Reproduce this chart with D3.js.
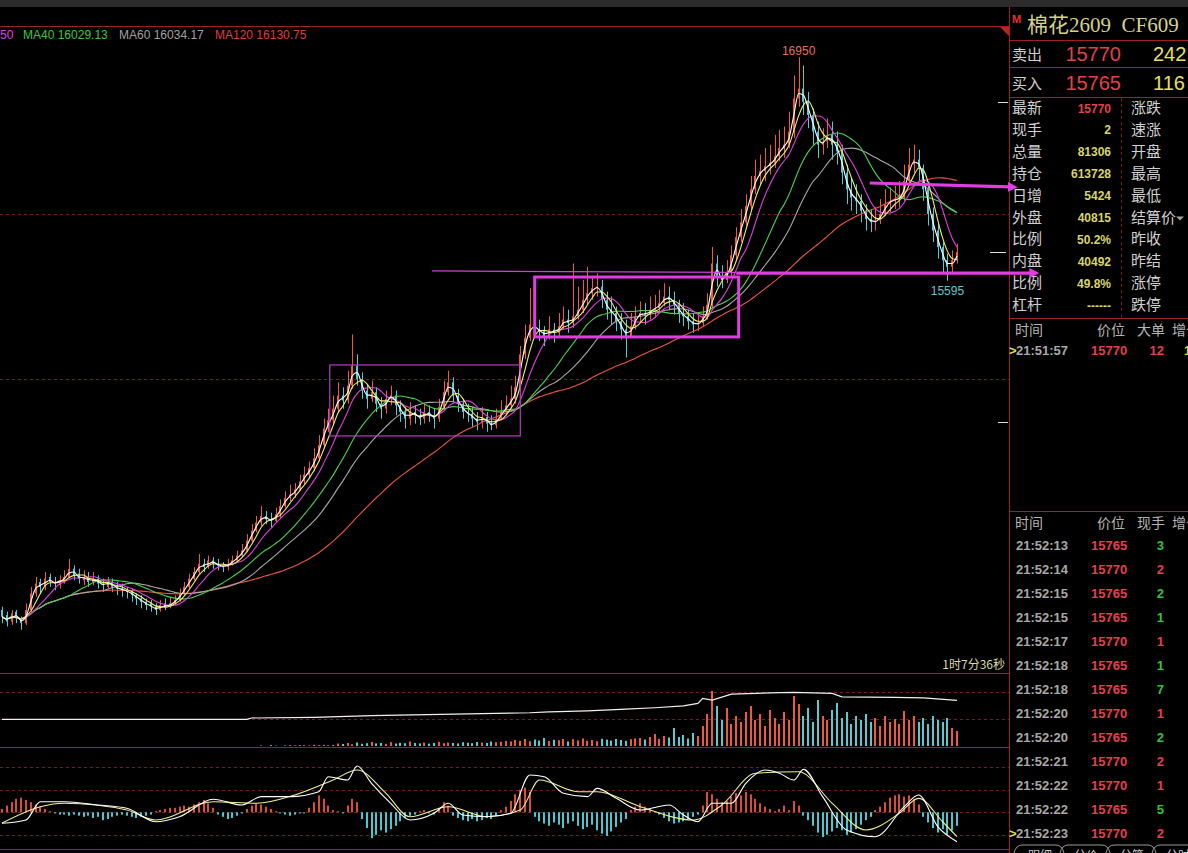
<!DOCTYPE html>
<html>
<head>
<meta charset="utf-8">
<script src="https://cdn.jsdelivr.net/npm/d3@7"></script>
<style>
  body { margin: 0; background: #000; overflow: hidden; }
  svg { display: block; }
</style>
</head>
<body>
<div id="container"></div>
<script>
/* DATA - one candle per drawn bar */
const open = [
  13600,13570,13530,13590,13550,13520,13600,13700,13770,13740,
  13800,13770,13750,13770,13800,13850,13820,13780,13800,13770,
  13790,13760,13740,13770,13740,13730,13720,13710,13690,13670,
  13650,13640,13620,13600,13640,13620,13640,13660,13700,13740,
  13790,13830,13880,13860,13900,13880,13870,13860,13880,13900,
  13930,13960,14020,14080,14130,14170,14150,14140,14180,14230,
  14280,14300,14330,14380,14420,14460,14520,14600,14700,14750,
  14820,14900,14870,14960,15080,15000,14930,14880,14920,14850,
  14820,14880,14900,14840,14800,14760,14800,14780,14760,14800,
  14780,14760,14830,14920,14980,14900,14850,14800,14790,14760,
  14740,14770,14730,14720,14760,14800,14840,14880,14950,15150,
  15250,15330,15300,15290,15260,15300,15280,15320,15360,15340,
  15380,15420,15480,15520,15550,15560,15480,15420,15400,15350,
  15300,15260,15320,15380,15400,15390,15420,15430,15460,15500,
  15480,15450,15400,15380,15350,15330,15340,15380,15450,15700,
  15620,15600,15650,15750,15860,15950,16050,16150,16230,16260,
  16290,16310,16350,16400,16420,16500,16700,16760,16680,16600,
  16500,16420,16440,16480,16420,16380,16250,16150,16100,16080,
  16020,15970,15950,15960,16000,16060,16080,16090,16100,16200,
  16300,16330,16280,16150,16000,15900,15800,15720,15680,15720
];
const high = [
  13620,13590,13600,13600,13560,13640,13740,13800,13790,13830,
  13820,13800,13810,13840,13910,13870,13850,13840,13830,13830,
  13810,13790,13800,13790,13770,13760,13740,13730,13700,13690,
  13670,13660,13640,13660,13670,13680,13690,13730,13770,13820,
  13860,13940,13910,13930,13920,13910,13890,13910,13930,13960,
  14000,14060,14120,14170,14230,14200,14190,14220,14270,14320,
  14360,14370,14420,14470,14500,14580,14660,14760,14820,14900,
  14980,14950,15050,15270,15150,15040,14970,14990,14950,14890,
  14930,14960,14930,14870,14830,14860,14840,14820,14850,14840,
  14820,14880,14990,15050,15010,14940,14880,14850,14830,14800,
  14830,14800,14780,14820,14870,14900,14960,15020,15200,15330,
  15550,15400,15360,15320,15380,15340,15400,15440,15420,15700,
  15560,15600,15680,15620,15640,15600,15530,15500,15440,15400,
  15360,15400,15440,15470,15460,15500,15510,15540,15580,15560,
  15530,15480,15460,15420,15400,15400,15440,15520,15800,15750,
  15690,15720,15810,15920,16030,16120,16230,16330,16360,16400,
  16420,16480,16510,16530,16620,16840,16950,16900,16740,16640,
  16560,16520,16580,16560,16500,16420,16300,16220,16180,16120,
  16060,16030,16040,16090,16150,16160,16170,16200,16300,16400,
  16420,16390,16300,16180,16040,15940,15830,15760,15780,15820
];
const low = [
  13520,13500,13510,13520,13480,13510,13590,13680,13700,13720,
  13740,13720,13730,13760,13790,13780,13760,13750,13740,13750,
  13730,13710,13730,13710,13690,13680,13670,13650,13630,13610,
  13600,13590,13570,13590,13600,13610,13630,13650,13690,13730,
  13780,13820,13830,13850,13850,13840,13830,13840,13870,13890,
  13920,13950,14010,14070,14110,14120,14100,14130,14160,14220,
  14260,14280,14320,14360,14400,14440,14500,14580,14680,14720,
  14800,14820,14850,14940,14960,14880,14820,14860,14800,14760,
  14790,14840,14780,14740,14700,14720,14730,14720,14730,14740,
  14700,14740,14810,14900,14860,14800,14760,14740,14710,14690,
  14700,14680,14690,14700,14750,14780,14820,14850,14930,15120,
  15230,15250,15230,15200,15240,15220,15260,15300,15280,15310,
  15360,15400,15450,15480,15500,15430,15360,15330,15290,15240,
  15130,15250,15300,15340,15330,15360,15370,15400,15440,15420,
  15390,15340,15320,15300,15280,15290,15320,15360,15430,15560,
  15550,15580,15620,15720,15830,15930,16020,16120,16180,16200,
  16240,16280,16320,16340,16400,16460,16650,16600,16520,16420,
  16340,16360,16400,16330,16300,16180,16060,16020,16000,15950,
  15900,15890,15900,15940,15990,16010,16030,16040,16080,16180,
  16250,16200,16080,15930,15830,15730,15640,15595,15640,15700
];
const close = [
  13560,13530,13580,13550,13520,13600,13700,13760,13740,13790,
  13770,13760,13780,13800,13850,13810,13790,13800,13770,13790,
  13760,13750,13770,13740,13730,13720,13710,13690,13670,13650,
  13630,13620,13600,13630,13620,13640,13660,13700,13740,13790,
  13830,13880,13860,13900,13880,13870,13860,13880,13900,13930,
  13960,14020,14080,14130,14170,14150,14140,14180,14230,14280,
  14300,14330,14380,14420,14460,14520,14600,14700,14750,14820,
  14900,14870,14960,15080,15000,14930,14880,14920,14850,14820,
  14880,14900,14840,14800,14760,14800,14780,14760,14800,14780,
  14760,14830,14920,14980,14900,14850,14800,14790,14760,14740,
  14770,14730,14720,14760,14800,14840,14880,14950,15150,15250,
  15330,15300,15290,15260,15300,15280,15320,15360,15340,15380,
  15420,15480,15520,15550,15560,15480,15420,15400,15350,15300,
  15260,15320,15380,15400,15390,15420,15430,15460,15500,15480,
  15450,15400,15380,15350,15330,15340,15380,15450,15700,15620,
  15600,15650,15750,15860,15950,16050,16150,16230,16260,16290,
  16310,16350,16400,16420,16500,16700,16760,16680,16600,16500,
  16420,16440,16480,16420,16380,16250,16150,16100,16080,16020,
  15970,15950,15960,16000,16060,16080,16090,16100,16200,16300,
  16330,16280,16150,16000,15900,15800,15720,15680,15720,15770
];
const volume = [
  0,0,0,0,0,0,0,0,0,0,
  0,0,0,0,0,0,0,0,0,0,
  0,0,0,0,0,0,0,0,0,0,
  0,0,0,0,0,0,0,0,0,0,
  0,0,0,0,0,0,0,0,0,0,
  0,0,0,0,60,0,80,50,0,70,
  90,60,100,80,60,120,90,110,80,100,
  250,200,300,180,350,220,280,400,260,300,
  220,380,250,320,280,450,300,260,350,240,
  300,420,280,350,300,260,380,320,280,400,
  350,300,450,380,420,500,450,600,520,700,
  480,650,550,800,500,620,580,700,450,680,
  560,750,520,600,480,720,640,550,700,600,
  520,680,750,800,650,900,1200,700,1000,850,
  1800,900,1100,750,1300,1000,2000,3200,5500,4000,
  2600,3800,2200,3000,2400,3400,4000,2600,3200,2000,
  3600,2800,2200,3400,2600,5000,4200,3000,3800,2400,
  4600,3000,2600,3600,4300,2800,3400,2200,3000,2600,
  3200,2400,2800,2000,3000,2400,2700,2200,3500,2600,
  3000,2400,2800,2200,3000,2600,2400,2800,1800,1500
];
// open interest line, read at its corners
const oiIdx = [0,51,52,65,77,110,114,122,130,136,142,145,146,148,152,160,165,173,175,186,192,199];
const oiVal = [599700,599700,600700,601200,602400,604600,605300,606000,607300,608300,609700,611500,
               615200,613900,618400,619300,619600,618900,616400,615900,615600,613700];

// MACD panel
const macdHist = [
  3,6,9,12,13,11,9,7,5,3,
  1,-1,-2,-2,-3,-2,-3,-4,-3,-5,
  -4,-7,-6,-4,-3,-2,-3,-4,-5,-4,
  -3,-2,1,2,3,4,4,5,6,5,
  7,9,11,8,4,-2,-4,-6,-5,-3,
  -1,3,6,8,7,5,3,1,-1,-2,
  -3,-2,-1,-1,4,9,15,12,6,2,
  1,-1,6,12,9,-6,-14,-23,-20,-16,
  -18,-15,-12,-8,-5,-3,-2,1,2,-1,
  -2,4,9,6,-3,-5,-7,-8,-6,-8,
  -7,-5,-6,-3,2,5,10,16,20,22,
  18,-4,-8,-10,-12,-9,-11,-14,-10,-8,
  -12,-15,-13,-11,-16,-19,-21,-17,-13,-9,
  -6,2,5,8,5,3,1,-2,-5,-8,
  -10,-9,-8,-6,-4,-2,6,18,16,12,
  9,10,14,17,15,18,16,12,8,5,
  3,1,3,6,2,10,6,-3,-7,-12,
  -18,-22,-20,-17,-14,-16,-20,-18,-15,-11,
  -7,-4,2,5,9,13,15,16,14,15,
  12,7,-4,-9,-14,-18,-15,-20,-16,-12
];
const difIdx = [0,5,8,13,20,26,32,37,44,50,54,60,66,68,72,74,77,81,85,90,93,96,101,106,110,113,117,122,124,128,133,139,142,145,148,152,155,159,162,165,167,171,176,182,188,191,195,199];
const difVal = [-9.8,-6.8,9.4,9.4,6.5,3.6,-8.4,-3.9,11.6,6.5,13.9,13.9,18.3,31.6,28.7,41.2,25.8,8,-6.8,-0.9,8,-2.4,-3.9,-0.9,33.2,31.6,16.9,13.9,21.3,12.4,2,6.5,-2.4,-8.4,8,8,25.8,37.6,34.7,28.7,38.2,13.9,-15.7,-21.7,5,15.4,-12.8,-26.1];
const deaIdx = [0,8,13,26,32,44,53,61,69,74,80,85,93,101,108,112,120,124,133,144,150,157,166,173,180,187,191,196,199];
const deaVal = [-9.6,5,8,2,-6.8,9.4,8,15.4,28.7,37.6,16.9,-3.9,5,-3.9,2,28.7,18.3,18.3,5,-6.8,6.5,34.7,36.1,8,-15.7,-0.9,12.4,-8.4,-21.7];

// moving averages: windows counted in drawn bars (one drawn bar ~ 2.7 source bars)
const maWindows = [2, 4, 7, 15, 22, 44];
const maColors = ["#ffffff", "#f0f064", "#e040e0", "#4cd04c", "#a8a8a8", "#e8583c"];

const legendText = ["50", "MA40 16029.13", "MA60 16034.17", "MA120 16130.75"];
const legendColors = ["#e040e0", "#3cc83c", "#a0a0a0", "#e03c3c"];
const legendX = [0, 23, 119, 215];

const priceGrid = [15000, 16000];
const axisMarks = [16680, 14740];
const volGrid = [2700, 5400];
const macdGrid = [-20, 0, 20, 40];

// right panel
const title = "棉花2609";
const code = "CF609";
const askPrice = 15770, askVol = 242, bidPrice = 15765, bidVol = 116;
const quoteLabelsL = ["最新","现手","总量","持仓","日增","外盘","比例","内盘","比例","杠杆"];
const quoteValues = ["15770","2","81306","613728","5424","40815","50.2%","40492","49.8%","------"];
const quoteLabelsR = ["涨跌","速涨","开盘","最高","最低","结算价","昨收","昨结","涨停","跌停"];
const bigTimes = ["21:51:57"], bigPrices = [15770], bigVols = [12];
const tickTimes = ["21:52:13","21:52:14","21:52:15","21:52:15","21:52:17","21:52:18","21:52:18",
                   "21:52:20","21:52:20","21:52:21","21:52:22","21:52:22","21:52:23"];
const tickPrices = [15765,15770,15765,15765,15770,15765,15765,15770,15765,15770,15770,15765,15770];
const tickVols = [3,2,2,1,1,1,7,1,2,2,1,5,2];
const tickSide = ["s","b","s","s","b","s","s","b","s","b","b","s","b"];
const tabs = ["明细", "分价", "分笔", "分时"];

/* CONSTANTS */
const width = 1188, height = 853;
const N = close.length;
const chartRight = 1009;
const lineRed = "#a01e1e", gridRed = "#7a1c1c";
const upColor = "#ec5a40", downColor = "#58cad2";
const cjk = "'Noto Sans CJK SC', sans-serif";
const num = "'Liberation Sans', Arial, sans-serif";

/* SCALES */
const x = d3.scaleLinear().domain([0, N - 1]).range([2, 957]);
const yP = d3.scaleLinear().domain([15000, 16000]).range([379, 214]);
const yV = d3.scaleLinear().domain([0, 7300]).range([746, 673]);
const yOI = d3.scaleLinear().domain([580000, 634000]).range([746, 673]);
const yM = d3.scaleLinear().domain([-20, 40]).range([834.8, 767.3]);
const px = i => Math.round(x(i));

const svg = d3.select("#container").append("svg")
  .attr("width", width).attr("height", height)
  .style("background", "#000");

const defs = svg.append("defs");
defs.append("clipPath").attr("id", "mainClip").append("rect")
  .attr("x", 0).attr("y", 27).attr("width", chartRight).attr("height", 645);
defs.append("marker").attr("id", "arrow")
  .attr("markerUnits", "userSpaceOnUse")
  .attr("markerWidth", 12).attr("markerHeight", 12)
  .attr("refX", 2).attr("refY", 6).attr("orient", "auto")
  .append("path").attr("d", "M0,1 L10,6 L0,11 Z").attr("fill", "#e23de2");

/* FRAME */
svg.append("rect").attr("x", 0).attr("y", 0).attr("width", width).attr("height", 7).attr("fill", "#2b2b2b");

[26, 673, 747, 849].forEach(yy => {
  svg.append("line").attr("x1", 0).attr("x2", chartRight).attr("y1", yy + 0.5).attr("y2", yy + 0.5)
    .attr("stroke", lineRed);
});
svg.append("line").attr("x1", chartRight + 0.5).attr("x2", chartRight + 0.5).attr("y1", 7).attr("y2", height)
  .attr("stroke", lineRed);
svg.append("path").attr("d", `M1000,27 L${chartRight},27 L${chartRight},36 Z`).attr("fill", "#c42020");

// dashed grid
const dashLine = yy => svg.append("line").attr("x1", 0).attr("x2", chartRight)
  .attr("y1", Math.round(yy) + 0.5).attr("y2", Math.round(yy) + 0.5)
  .attr("stroke", gridRed).attr("stroke-dasharray", "3,3");
priceGrid.forEach(p => dashLine(yP(p)));
volGrid.forEach(v => dashLine(yV(v)));
macdGrid.forEach(v => dashLine(yM(v)));

// right axis marks
axisMarks.forEach(p => {
  svg.append("line").attr("x1", 998).attr("x2", 1008).attr("y1", Math.round(yP(p)) + 0.5).attr("y2", Math.round(yP(p)) + 0.5)
    .attr("stroke", "#e0e0e0");
});
svg.append("line").attr("x1", 990).attr("x2", 1006)
  .attr("y1", Math.round(yP(close[N - 1])) + 0.5).attr("y2", Math.round(yP(close[N - 1])) + 0.5)
  .attr("stroke", "#e0e0e0");

/* LEGEND */
svg.selectAll("text.legend").data(legendText).join("text")
  .attr("class", "legend")
  .attr("x", (d, i) => legendX[i]).attr("y", 39)
  .attr("fill", (d, i) => legendColors[i])
  .style("font", `12px ${num}`)
  .text(d => d);

/* CANDLES */
const bars = d3.range(N);
const main = svg.append("g").attr("clip-path", "url(#mainClip)");
const candleColor = i => close[i] >= open[i] ? upColor : downColor;

main.selectAll("line.wick").data(bars).join("line")
  .attr("class", "wick")
  .attr("x1", i => px(i) + 0.5).attr("x2", i => px(i) + 0.5)
  .attr("y1", i => yP(high[i])).attr("y2", i => yP(low[i]))
  .attr("stroke", candleColor).attr("stroke-width", 1);

main.selectAll("rect.body").data(bars).join("rect")
  .attr("class", "body")
  .attr("x", i => px(i) - 1).attr("width", 2)
  .attr("y", i => yP(Math.max(open[i], close[i])))
  .attr("height", i => Math.max(1, Math.abs(yP(open[i]) - yP(close[i]))))
  .attr("fill", candleColor);

// moving averages
const sma = (arr, w) => arr.map((_, i) => d3.mean(arr.slice(Math.max(0, i - w + 1), i + 1)));
const maLine = d3.line().x((d, i) => x(i)).y(d => yP(d)).curve(d3.curveMonotoneX);
maWindows.slice().reverse().forEach((w, k) => {
  const idx = maWindows.length - 1 - k;
  main.append("path").datum(sma(close, w))
    .attr("d", maLine)
    .attr("fill", "none")
    .attr("stroke", maColors[idx])
    .attr("stroke-width", 1.1);
});

// high / low labels (overall high, and the latest swing low)
const hiIdx = d3.maxIndex(high);
const loIdx = d3.minIndex(low.slice(180)) + 180;
svg.append("text").attr("x", x(hiIdx)).attr("y", yP(high[hiIdx]) - 2)
  .attr("text-anchor", "middle").attr("fill", "#e8705a")
  .style("font", `12px ${num}`).text(high[hiIdx]);
svg.append("text").attr("x", x(loIdx)).attr("y", yP(low[loIdx]) + 14)
  .attr("text-anchor", "middle").attr("fill", "#5ec8d0")
  .style("font", `12px ${num}`).text(low[loIdx]);

svg.append("text").attr("x", 1005).attr("y", 669).attr("text-anchor", "end")
  .attr("fill", "#d8d8a8").style("font", `12px ${cjk}`).text("1时7分36秒");

/* VOLUME */
svg.selectAll("rect.vol").data(bars.filter(i => volume[i] > 0)).join("rect")
  .attr("class", "vol")
  .attr("x", i => px(i) - 1).attr("width", 2)
  .attr("y", i => yV(volume[i]))
  .attr("height", i => yV(0) - yV(volume[i]))
  .attr("fill", candleColor);

svg.append("path").datum(oiIdx.map((d, i) => [d, oiVal[i]]))
  .attr("d", d3.line().x(d => x(d[0])).y(d => yOI(d[1])))
  .attr("fill", "none").attr("stroke", "#f0f0f0").attr("stroke-width", 1.2);

/* MACD */
svg.selectAll("rect.hist").data(bars).join("rect")
  .attr("class", "hist")
  .attr("x", i => px(i) - 1).attr("width", 2)
  .attr("y", i => yM(Math.max(0, macdHist[i])))
  .attr("height", i => Math.abs(yM(macdHist[i]) - yM(0)))
  .attr("fill", i => macdHist[i] >= 0 ? "#d84e3c" : "#4cc6d0");

const kLine = d3.line().x(d => x(d[0])).y(d => yM(d[1])).curve(d3.curveMonotoneX);
svg.append("path").datum(deaIdx.map((d, i) => [d, deaVal[i]]))
  .attr("d", kLine).attr("fill", "none").attr("stroke", "#f0f08c").attr("stroke-width", 1.1);
svg.append("path").datum(difIdx.map((d, i) => [d, difVal[i]]))
  .attr("d", kLine).attr("fill", "none").attr("stroke", "#ffffff").attr("stroke-width", 1.1);

/* RIGHT PANEL */
const rp = svg.append("g");
[40, 67, 97, 318, 511].forEach(yy => {
  rp.append("line").attr("x1", chartRight).attr("x2", width).attr("y1", yy + 0.5).attr("y2", yy + 0.5)
    .attr("stroke", lineRed);
});
rp.append("line").attr("x1", 1121.5).attr("x2", 1121.5).attr("y1", 98).attr("y2", 318)
  .attr("stroke", gridRed).attr("stroke-dasharray", "3,3");

rp.append("text").attr("x", 1012).attr("y", 23).attr("fill", "#e83030")
  .style("font", `bold 11px ${num}`).text("M");
rp.append("text").attr("x", 1027).attr("y", 32).attr("fill", "#d4d08e")
  .style("font", `21px 'Liberation Serif', ${cjk}`)
  .text(title + "  " + code).attr("xml:space", "preserve").style("white-space", "pre");

const bookRows = [["卖出", askPrice, askVol, 61], ["买入", bidPrice, bidVol, 90]];
bookRows.forEach(r => {
  rp.append("text").attr("x", 1012).attr("y", r[3] - 1).attr("fill", "#d0d0d0")
    .style("font", `15px ${cjk}`).text(r[0]);
  rp.append("text").attr("x", 1121).attr("y", r[3]).attr("text-anchor", "end").attr("fill", "#e2404c")
    .style("font", `20px ${num}`).text(r[1]);
  rp.append("text").attr("x", 1153).attr("y", r[3]).attr("fill", "#e6e05a")
    .style("font", `20px ${num}`).text(r[2]);
});

const rowY = k => 108 + k * 21.9;
quoteLabelsL.forEach((d, k) => {
  rp.append("text").attr("x", 1012).attr("y", rowY(k) + 5).attr("fill", "#d0d0d0")
    .style("font", `15px ${cjk}`).text(d);
  rp.append("text").attr("x", 1111).attr("y", rowY(k) + 4.5).attr("text-anchor", "end")
    .attr("fill", k === 0 ? "#e2404c" : "#d8d468")
    .style("font", `bold 12px ${num}`).text(quoteValues[k]);
  rp.append("text").attr("x", 1131).attr("y", rowY(k) + 5).attr("fill", "#d0d0d0")
    .style("font", `15px ${cjk}`).text(quoteLabelsR[k]);
});
rp.append("path").attr("d", `M1176,${rowY(5) - 1} L1184,${rowY(5) - 1} L1180,${rowY(5) + 3} Z`).attr("fill", "#a0a0a0");

const header = (yy, cols) => cols.forEach((t, j) => {
  rp.append("text").attr("x", [1015, 1097, 1137, 1172][j]).attr("y", yy).attr("fill", "#b4b4b4")
    .style("font", `14px ${cjk}`).text(t);
});
header(335, ["时间", "价位", "大单", "增仓"]);
header(528, ["时间", "价位", "现手", "增仓"]);

const tradeRow = (yy, t, p, v, vColor, marker) => {
  if (marker) rp.append("text").attr("x", 1009).attr("y", yy + 4.5).attr("fill", "#e0e040")
    .style("font", `bold 13px ${num}`).text(">");
  rp.append("text").attr("x", 1016).attr("y", yy + 4.5).attr("fill", "#a8a8a8")
    .style("font", `bold 13px ${num}`).text(t);
  rp.append("text").attr("x", 1091).attr("y", yy + 4.5).attr("fill", "#e2404c")
    .style("font", `bold 13px ${num}`).text(p);
  rp.append("text").attr("x", 1164).attr("y", yy + 4.5).attr("text-anchor", "end").attr("fill", vColor)
    .style("font", `bold 13px ${num}`).text(v);
};
bigTimes.forEach((t, k) => {
  tradeRow(350 + k * 24, t, bigPrices[k], bigVols[k], "#e2404c", true);
  rp.append("text").attr("x", 1184).attr("y", 354.5 + k * 24).attr("fill", "#e0e040")
    .style("font", `bold 13px ${num}`).text("1");
});
tickTimes.forEach((t, k) => {
  tradeRow(545 + k * 24, t, tickPrices[k], tickVols[k],
    tickSide[k] === "b" ? "#e2404c" : "#36c236", k === tickTimes.length - 1);
});

// tabs at the bottom edge
tabs.forEach((t, k) => {
  const tx = 1020 + k * 46;
  rp.append("path").attr("d", `M${tx - 6},853 Q${tx - 4},845 ${tx + 2},845 L${tx + 36},845 Q${tx + 42},845 ${tx + 44},853`)
    .attr("fill", "none").attr("stroke", "#9a9a9a");
  rp.append("text").attr("x", tx + 8).attr("y", 860).attr("fill", "#c8c8c8")
    .style("font", `12px ${cjk}`).text(t);
});

/* ANNOTATIONS (drawn in data space) */
const ann = svg.append("g");
ann.append("rect")
  .attr("x", x(68.3)).attr("y", yP(15085))
  .attr("width", x(108) - x(68.3)).attr("height", yP(14655) - yP(15085))
  .attr("fill", "none").attr("stroke", "#b83cc0").attr("stroke-width", 1.2);
ann.append("rect")
  .attr("x", x(111)).attr("y", yP(15618))
  .attr("width", x(153.5) - x(111)).attr("height", yP(15255) - yP(15618))
  .attr("fill", "none").attr("stroke", "#e23de2").attr("stroke-width", 3);
ann.append("line")
  .attr("x1", x(89.6)).attr("y1", yP(15655)).attr("x2", x(153)).attr("y2", yP(15646))
  .attr("stroke", "#d040d8").attr("stroke-width", 1.3);
ann.append("line")
  .attr("x1", x(153)).attr("y1", yP(15642)).attr("x2", x(214.5)).attr("y2", yP(15642))
  .attr("stroke", "#e23de2").attr("stroke-width", 3.2).attr("marker-end", "url(#arrow)");
ann.append("line")
  .attr("x1", x(180.8)).attr("y1", yP(16188)).attr("x2", x(210)).attr("y2", yP(16164))
  .attr("stroke", "#e23de2").attr("stroke-width", 3.2).attr("marker-end", "url(#arrow)");
</script>
</body>
</html>
